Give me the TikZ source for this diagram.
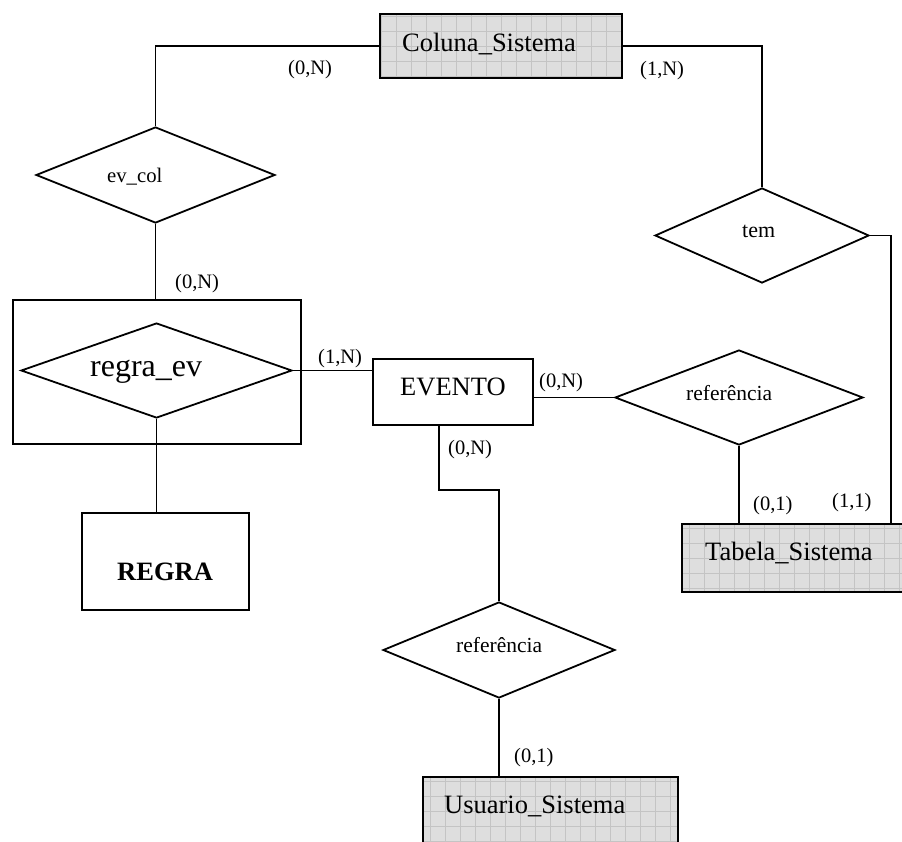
\documentclass[tikz,border=0pt]{standalone}
\usepackage{fontspec}
\setmainfont{Liberation Serif}
\usetikzlibrary{shapes.geometric}
\definecolor{tablefill}{HTML}{DEDEDE}
\definecolor{tablegrid}{HTML}{C4C4C4}
\tikzset{
  er/.style={line width=1.8pt, line join=miter},
  entity/.style={er, draw, rectangle, inner sep=0pt},
  systable/.style={entity, fill=tablefill,
    path picture={\draw[tablegrid, line width=0.6pt]
      (path picture bounding box.south west) grid[step=15pt]
      (path picture bounding box.north east);}},
  relation/.style={er, draw, diamond, inner sep=0pt},
  txt/.style={anchor=base west, inner sep=0pt},
  big/.style={txt, font=\fontsize{26.5}{30}\selectfont},
  rel/.style={txt, font=\fontsize{21.5}{25}\selectfont},
  card/.style={txt, font=\fontsize{20.5}{24}\selectfont},
  link/.style={er}
}
\begin{document}
\begin{tikzpicture}[x=1pt,y=-1pt]
\useasboundingbox (0,0) rectangle (902,841);
\fill[white] (0,0) rectangle (902,841);

% entities
\node[systable, minimum width=242, minimum height=64] (coluna) at (501,46) {};
\node[systable, minimum width=224, minimum height=68] (tabela) at (794,558) {};
\node[systable, minimum width=255, minimum height=68] (usuario) at (550.5,811) {};
\node[entity, minimum width=160, minimum height=66] (evento) at (453,392) {};
\node[entity, minimum width=167, minimum height=97] (regra) at (165.5,561.5) {};
\node[entity, minimum width=288, minimum height=144] (aggr) at (157,372) {};

% relationships
\node[relation, minimum width=271, minimum height=95] (regraev) at (156.5,370.5) {};
\node[relation, minimum width=239, minimum height=96] (evcol) at (155.5,175) {};
\node[relation, minimum width=214, minimum height=95] (tem) at (762,235.5) {};
\node[relation, minimum width=248, minimum height=95] (ref1) at (739,397.5) {};
\node[relation, minimum width=232, minimum height=96] (ref2) at (499,650) {};

% names
\node[big] (tcoluna) at (402,51) {Coluna\_Sistema};
\node[big] (ttabela) at (705,560) {Tabela\_Sistema};
\node[big] (tusuario) at (444,813) {Usuario\_Sistema};
\node[big] (tevento) at (400,395) {EVENTO};
\node[big, font=\fontsize{26.5}{30}\selectfont\bfseries] (tregra) at (117,580) {REGRA};
\node[txt, font=\fontsize{32}{36}\selectfont] (tregraev) at (90,376) {regra\_ev};
\node[rel, font=\fontsize{20.7}{24}\selectfont] (tevcol) at (107,182) {ev\_col};
\node[rel, font=\fontsize{22}{25}\selectfont] (ttem) at (742,237) {tem};
\node[rel] (tref1) at (686,400) {referência};
\node[rel] (tref2) at (456,652) {referência};

% cardinalities
\node[card] (c1) at (288,74) {(0,N)};
\node[card] (c2) at (640,75) {(1,N)};
\node[card] (c3) at (175,288) {(0,N)};
\node[card] (c4) at (318,363) {(1,N)};
\node[card] (c5) at (539,387) {(0,N)};
\node[card] (c6) at (448,454) {(0,N)};
\node[card] (c7) at (753,510) {(0,1)};
\node[card] (c8) at (832,507) {(1,1)};
\node[card] (c9) at (514,762) {(0,1)};

% connectors
\draw[link] (evcol.north) |- (coluna.west);
\draw[link] (coluna.east) -| (tem.north);
\draw[link] (tem.east) -| ([xshift=210pt]tabela.north west);
\draw[link] (evcol.south) -- (evcol.south |- aggr.north);
\draw[link] (regraev.east) -- (regraev.east -| evento.west);
\draw[link] (regraev.south) -- (regraev.south |- regra.north);
\draw[link] (ref1.west) -- (ref1.west -| evento.east);
\draw[link] (ref1.south) -- (ref1.south |- tabela.north);
\draw[link] ([xshift=-14pt]evento.south) -- ++(0,64) -| (ref2.north);
\draw[link] (ref2.south) -- (ref2.south |- usuario.north);
\end{tikzpicture}
\end{document}
